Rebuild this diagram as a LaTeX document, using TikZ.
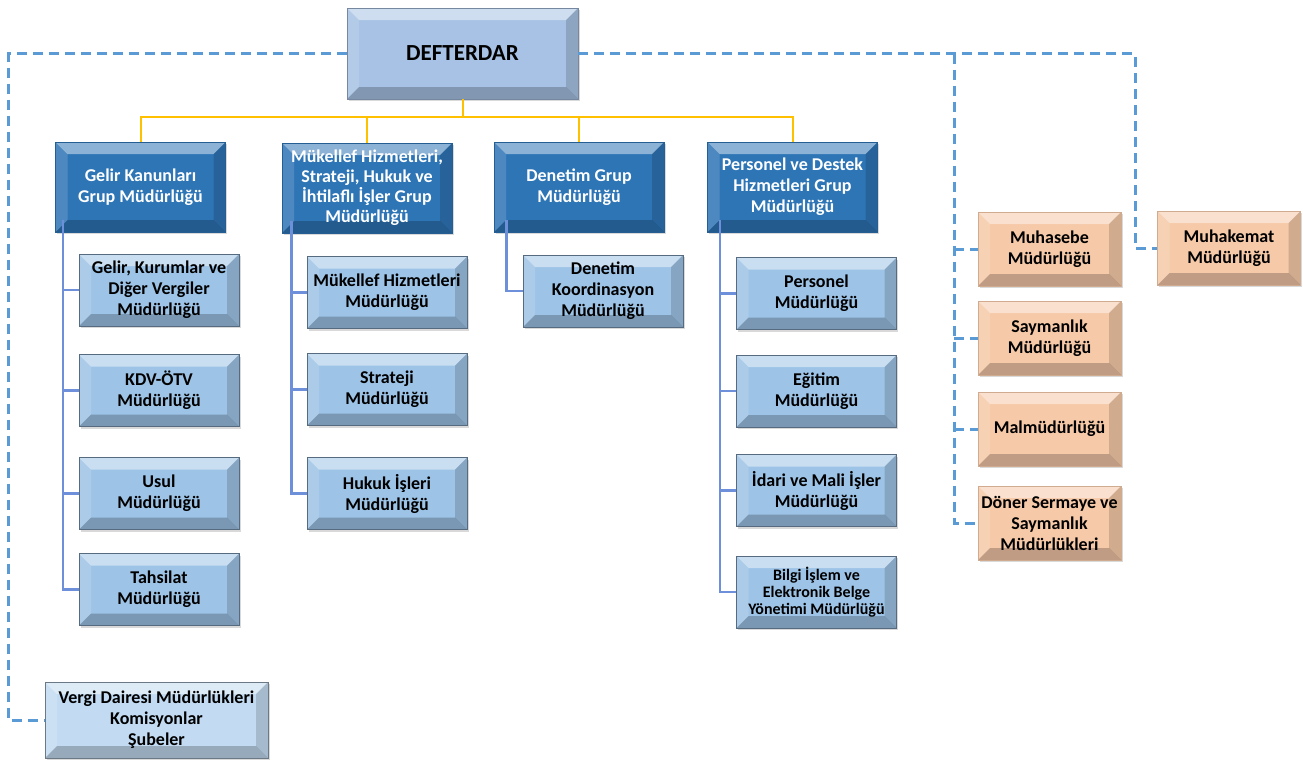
\documentclass[tikz,border=0pt]{standalone}
\usepackage{fontspec}
\setmainfont{Carlito}
\usetikzlibrary{shadows}

\definecolor{koyumavi}{HTML}{2E75B6}
\definecolor{acikmavi}{HTML}{9DC3E6}
\definecolor{solukmavi}{HTML}{C2DBF2}
\definecolor{ustmavi}{HTML}{A7C2E4}
\definecolor{seftali}{HTML}{F6C9A8}
\definecolor{kesikmavi}{HTML}{5B9BD5}
\definecolor{altin}{HTML}{FFC000}
\definecolor{baglanti}{HTML}{6E8FD9}

\tikzset{
  kabartma/.style={path picture={
      \coordinate (kb1) at (path picture bounding box.north west);
      \coordinate (kb2) at (path picture bounding box.north east);
      \coordinate (kb3) at (path picture bounding box.south east);
      \coordinate (kb4) at (path picture bounding box.south west);
      \fill[white, opacity=.45] (kb1) -- (kb2) -- ([xshift=-6pt,yshift=-6pt]kb2) -- ([xshift=6pt,yshift=-6pt]kb1) -- cycle;
      \fill[white, opacity=.15] (kb1) -- ([xshift=6pt,yshift=-6pt]kb1) -- ([xshift=6pt,yshift=6pt]kb4) -- (kb4) -- cycle;
      \fill[black, opacity=.15] (kb2) -- ([xshift=-6pt,yshift=-6pt]kb2) -- ([xshift=-6pt,yshift=6pt]kb3) -- (kb3) -- cycle;
      \fill[black, opacity=.22] (kb4) -- ([xshift=6pt,yshift=6pt]kb4) -- ([xshift=-6pt,yshift=6pt]kb3) -- (kb3) -- cycle;
  }},
  kutu/.style={kabartma, inner sep=0pt, align=center,
    font=\bfseries\fontsize{9}{10.5}\selectfont,
    drop shadow={opacity=.3, shadow xshift=.8pt, shadow yshift=-1.2pt}},
  grupkutu/.style={kutu, fill=koyumavi, draw=koyumavi!80!black, text=white,
    minimum width=85pt, minimum height=45pt},
  altkutu/.style={kutu, fill=acikmavi, draw=acikmavi!55!black,
    minimum width=80pt, minimum height=36pt},
  yankutu/.style={kutu, fill=seftali, draw=seftali!85!black,
    minimum width=71.5pt, minimum height=37pt},
  sari/.style={altin, line width=1pt},
  dal/.style={baglanti, line width=1.3pt},
  kesik/.style={kesikmavi, line width=1.5pt, dash pattern=on 5pt off 3pt}
}

\begin{document}
\begin{tikzpicture}[x=0.5pt, y=-0.5pt]
\useasboundingbox (0,0) rectangle (1303,760);

% ust kutu
\node[kutu, fill=ustmavi, draw=ustmavi!70!black, minimum width=115.5pt, minimum height=45.5pt,
  font=\bfseries\fontsize{11.5}{13}\selectfont] (defterdar) at (462.5,53.5) {DEFTERDAR};

% grup mudurlukleri
\node[grupkutu] (gk) at (140.5,187) {Gelir Kanunları\\Grup Müdürlüğü};
\node[grupkutu, font=\bfseries\fontsize{9}{10}\selectfont] (mk) at (367,188) {Mükellef Hizmetleri,\\Strateji, Hukuk ve\\İhtilaflı İşler Grup\\Müdürlüğü};
\node[grupkutu] (dn) at (579,187) {Denetim Grup\\Müdürlüğü};
\node[grupkutu] (pdg) at (792.5,187) {Personel ve Destek\\Hizmetleri Grup\\Müdürlüğü};

% alt mudurlukler
\node[altkutu] (gkv) at (159,290) {Gelir, Kurumlar ve\\Diğer Vergiler\\Müdürlüğü};
\node[altkutu] (kdv) at (159,390.5) {KDV-ÖTV\\Müdürlüğü};
\node[altkutu] (usul) at (159,493.5) {Usul\\Müdürlüğü};
\node[altkutu] (tahsilat) at (159,589.5) {Tahsilat\\Müdürlüğü};

\node[altkutu] (mhm) at (387,292.5) {Mükellef Hizmetleri\\Müdürlüğü};
\node[altkutu] (strateji) at (387,389.5) {Strateji\\Müdürlüğü};
\node[altkutu] (hukuk) at (387,493.5) {Hukuk İşleri\\Müdürlüğü};

\node[altkutu] (koord) at (603,291) {Denetim\\Koordinasyon\\Müdürlüğü};

\node[altkutu] (personel) at (816.5,293.5) {Personel\\Müdürlüğü};
\node[altkutu] (egitim) at (816.5,391) {Eğitim\\Müdürlüğü};
\node[altkutu] (idari) at (816.5,490.5) {İdari ve Mali İşler\\Müdürlüğü};
\node[altkutu, font=\bfseries\fontsize{8}{8.5}\selectfont] (bilgi) at (816.5,592) {Bilgi İşlem ve\\Elektronik Belge\\Yönetimi Müdürlüğü};

\node[altkutu, fill=solukmavi, draw=solukmavi!55!black, minimum width=111.5pt, minimum height=38pt] (vergi) at (156.5,720) {Vergi Dairesi Müdürlükleri\\Komisyonlar\\Şubeler};

% sag taraf
\node[yankutu] (muhasebe) at (1049.5,249) {Muhasebe\\Müdürlüğü};
\node[yankutu] (saymanlik) at (1049.5,338) {Saymanlık\\Müdürlüğü};
\node[yankutu] (malmud) at (1049.5,429) {Malmüdürlüğü};
\node[yankutu] (doner) at (1049.5,523) {Döner Sermaye ve\\Saymanlık\\Müdürlükleri};
\node[yankutu] (muhakemat) at (1229,248) {Muhakemat\\Müdürlüğü};

% sari hatlar
\coordinate (bus) at (462.5,117);
\draw[sari] (defterdar.south) -- (bus);
\draw[sari] (gk.north) |- (bus);
\draw[sari] (mk.north) |- (bus);
\draw[sari] (dn.north) |- (bus);
\draw[sari] (pdg.north) |- (bus);

% mavi hatlar
\draw[dal] ([xshift=4pt,yshift=6pt]gk.south west) |- (gkv.west);
\draw[dal] ([xshift=4pt,yshift=6pt]gk.south west) |- (kdv.west);
\draw[dal] ([xshift=4pt,yshift=6pt]gk.south west) |- (usul.west);
\draw[dal] ([xshift=4pt,yshift=6pt]gk.south west) |- (tahsilat.west);
\draw[dal] ([xshift=5pt,yshift=6pt]mk.south west) |- (mhm.west);
\draw[dal] ([xshift=5pt,yshift=6pt]mk.south west) |- (strateji.west);
\draw[dal] ([xshift=5pt,yshift=6pt]mk.south west) |- (hukuk.west);
\draw[dal] ([xshift=6.5pt,yshift=6pt]dn.south west) |- (koord.west);
\draw[dal] ([xshift=6.5pt,yshift=6pt]pdg.south west) |- (personel.west);
\draw[dal] ([xshift=6.5pt,yshift=6pt]pdg.south west) |- (egitim.west);
\draw[dal] ([xshift=6.5pt,yshift=6pt]pdg.south west) |- (idari.west);
\draw[dal] ([xshift=6.5pt,yshift=6pt]pdg.south west) |- (bilgi.west);

% kesikli hatlar
\coordinate (sagdal) at (954,53.5);
\draw[kesik] (defterdar.west) -| ([xshift=-18pt]vergi.west) -- (vergi.west);
\draw[kesik] (defterdar.east) -| ([xshift=-11pt]muhakemat.west) -- (muhakemat.west);
\draw[kesik] (sagdal) |- (doner.west);
\draw[kesik] (sagdal |- muhasebe.west) -- (muhasebe.west);
\draw[kesik] (sagdal |- saymanlik.west) -- (saymanlik.west);
\draw[kesik] (sagdal |- malmud.west) -- (malmud.west);
\end{tikzpicture}
\end{document}
